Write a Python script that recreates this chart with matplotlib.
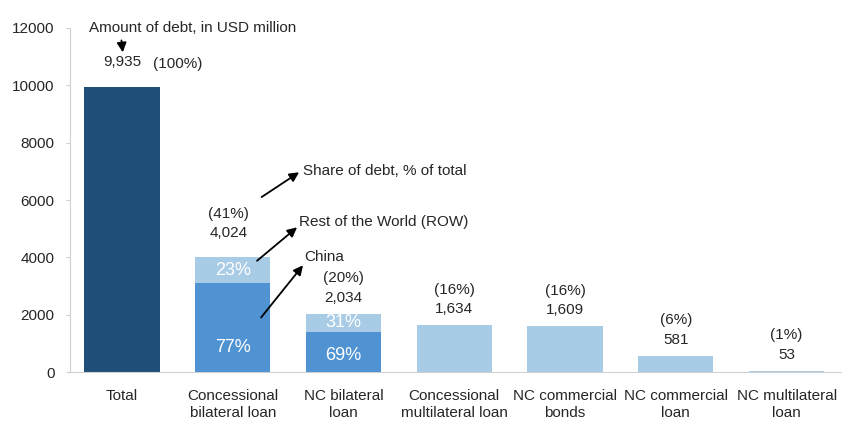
import matplotlib.pyplot as plt

plt.rcParams['font.family'] = ['Liberation Sans', 'DejaVu Sans']

categories = ['Total', 'Concessional\nbilateral loan', 'NC bilateral\nloan',
              'Concessional\nmultilateral loan', 'NC commercial\nbonds',
              'NC commercial\nloan', 'NC multilateral\nloan']
amounts = [9935, 4024, 2034, 1634, 1609, 581, 53]
shares = ['(100%)', '(41%)', '(20%)', '(16%)', '(16%)', '(6%)', '(1%)']
amount_labels = ['9,935', '4,024', '2,034', '1,634', '1,609', '581', '53']

# China / ROW split for the bilateral loans
split_idx = [1, 2]
china_pct = [77, 69]
row_pct = [23, 31]

dark = '#1f4e79'
mid = '#4f93d3'
light = '#a9cce6'
txt = '#262626'
fs = 11

fig = plt.figure(figsize=(8.42, 4.22), dpi=100)
ax = fig.add_axes([0.083, 0.118, 0.917, 0.816])

x = list(range(len(categories)))
w = 0.68
colors = [dark] + [light] * (len(categories) - 1)
ax.bar(x, amounts, width=w, color=colors, zorder=2)

china_vals = []
row_vals = []
for i, cp, rp in zip(split_idx, china_pct, row_pct):
    c = amounts[i] * cp / 100
    china_vals.append(c)
    row_vals.append(amounts[i] - c)
ax.bar(split_idx, china_vals, width=w, color=mid, zorder=3)
ax.bar(split_idx, row_vals, bottom=china_vals, width=w, color=light, zorder=3)

# white percentages inside the split bars
china_ypos = [0.28, 0.42]
for i, cv, rv, cp, rp, f in zip(split_idx, china_vals, row_vals, china_pct, row_pct, china_ypos):
    ax.text(i, cv * f, f'{cp}%', color='white', ha='center', va='center', fontsize=13, zorder=4)
    ax.text(i, cv + rv / 2, f'{rp}%', color='white', ha='center', va='center', fontsize=13, zorder=4)

# amount and share labels above bars (offsets in points)
for i in x:
    if i == 0:
        ax.annotate(amount_labels[i], (i, amounts[i]), xytext=(0, 18), textcoords='offset points',
                    ha='center', va='center', fontsize=fs, color=txt)
        ax.annotate(shares[i], (i, amounts[i]), xytext=(40, 16.5), textcoords='offset points',
                    ha='center', va='center', fontsize=fs, color=txt)
        continue
    off = 17 if i == 1 else 11.5
    dx = -3 if i == 1 else 0
    ax.annotate(amount_labels[i], (i, amounts[i]), xytext=(dx, off),
                textcoords='offset points', ha='center', va='center', fontsize=fs, color=txt)
    ax.annotate(shares[i], (i, amounts[i]), xytext=(dx, off + 14),
                textcoords='offset points', ha='center', va='center', fontsize=fs, color=txt)

arrow = dict(arrowstyle='-|>', color='black', lw=1.3, mutation_scale=14)
ax.annotate('Amount of debt, in USD million', xy=(0.01, 11050), xytext=(-0.3, 12000),
            ha='left', va='center', fontsize=fs, color=txt,
            arrowprops=dict(arrow, relpos=(0.155, 0.0)))
ax.text(1.63, 7020, 'Share of debt, % of total', ha='left', va='center', fontsize=fs, color=txt)
ax.annotate('', xy=(1.62, 7020), xytext=(1.24, 6050), arrowprops=arrow)
ax.text(1.6, 5230, 'Rest of the World (ROW)', ha='left', va='center', fontsize=fs, color=txt)
ax.annotate('', xy=(1.6, 5110), xytext=(1.2, 3820), arrowprops=arrow)
ax.text(1.65, 4000, 'China', ha='left', va='center', fontsize=fs, color=txt)
ax.annotate('', xy=(1.65, 3800), xytext=(1.24, 1830), arrowprops=arrow)

ax.set_xlim(-0.47, 6.5)
ax.set_ylim(0, 12000)
ax.set_yticks(range(0, 12001, 2000))
ax.set_xticks(x)
ax.set_xticklabels(categories, fontsize=fs, color=txt, linespacing=1.3)
ax.tick_params(axis='x', length=0, pad=12)
ax.tick_params(axis='y', length=3, color='#d0d0d0', labelsize=fs, labelcolor=txt, pad=8)
for s in ['top', 'right']:
    ax.spines[s].set_visible(False)
ax.spines['left'].set_color('#d0d0d0')
ax.spines['bottom'].set_color('#d0d0d0')

fig.savefig('out.png', dpi=100)
